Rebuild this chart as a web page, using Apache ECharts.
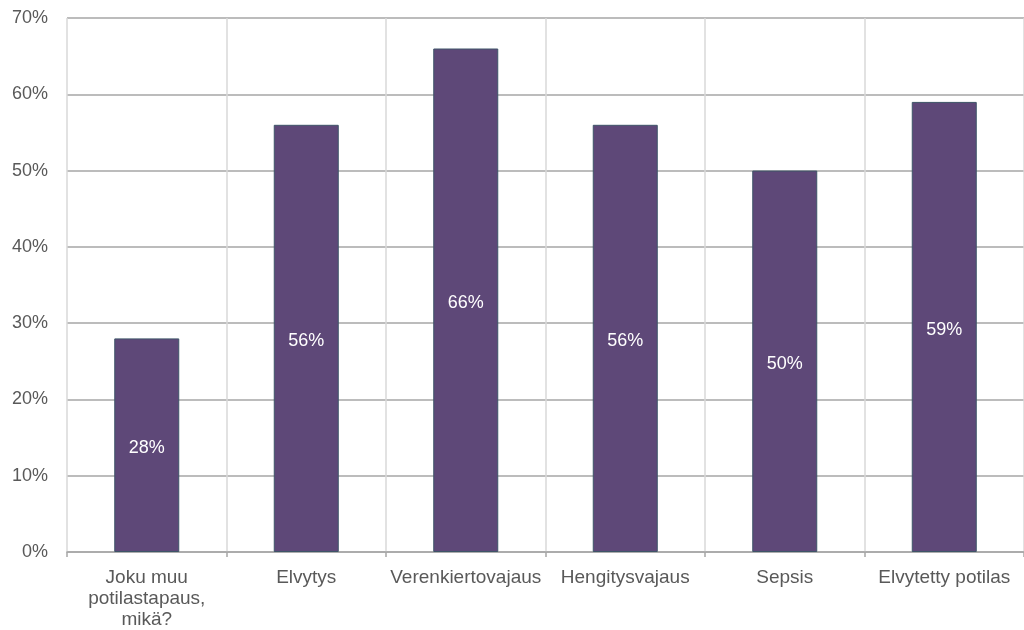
<!DOCTYPE html>
<html>
<head>
<meta charset="utf-8">
<script src="https://cdn.jsdelivr.net/npm/echarts@6/dist/echarts.min.js"></script>
<style>
  html, body { margin: 0; padding: 0; background: #fff; }
  #chart { width: 1024px; height: 630px; }
</style>
</head>
<body>
<div id="chart"></div>
<script>
var kategoriat = ['Joku muu\npotilastapaus,\nmikä?', 'Elvytys', 'Verenkiertovajaus', 'Hengitysvajaus', 'Sepsis', 'Elvytetty potilas'];
var osuudet = [28, 56, 66, 56, 50, 59];

var myChart = echarts.init(document.getElementById('chart'));
var option = {
    animation: false,
    grid: {
        left: 67,
        right: -1,
        top: 18,
        bottom: 77
    },
    xAxis: {
        type: 'category',
        data: kategoriat,
        axisLine: {
            lineStyle: { color: '#A6A6A6', width: 1.5 }
        },
        axisTick: {
            show: true,
            length: 5,
            lineStyle: { color: '#A6A6A6', width: 1.5 }
        },
        axisLabel: {
            color: '#595959',
            fontSize: 19,
            fontFamily: 'Liberation Sans',
            lineHeight: 21,
            margin: 15,
            interval: 0
        },
        splitLine: {
            show: true,
            lineStyle: { color: '#D9D9D9', width: 1.5 }
        }
    },
    yAxis: {
        type: 'value',
        min: 0,
        max: 70,
        interval: 10,
        axisLine: { show: false },
        axisTick: { show: false },
        axisLabel: {
            color: '#595959',
            fontSize: 18,
            fontFamily: 'Liberation Sans',
            margin: 19,
            formatter: '{value}%'
        },
        splitLine: {
            lineStyle: { color: '#A6A6A6', width: 1.5 }
        }
    },
    series: [{
        type: 'bar',
        data: osuudet,
        barWidth: 65,
        itemStyle: {
            color: '#5E4878',
            borderColor: '#3E5568',
            borderWidth: 1
        },
        label: {
            show: true,
            position: 'inside',
            offset: [0, 3],
            color: '#ffffff',
            fontSize: 18,
            fontFamily: 'Liberation Sans',
            formatter: '{c}%'
        }
    }]
};
myChart.setOption(option, true);
</script>
</body>
</html>
